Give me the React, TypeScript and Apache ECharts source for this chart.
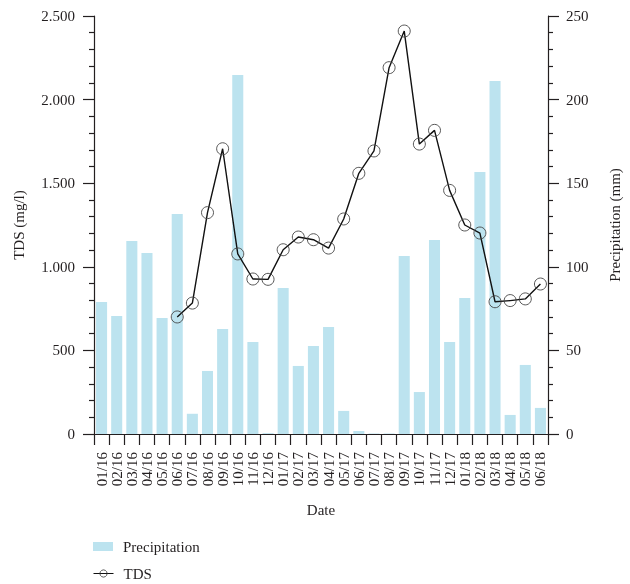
import React, { useEffect, useRef } from "react";
import * as echarts from "echarts";

const dates = ["01/16","02/16","03/16","04/16","05/16","06/16","07/16","08/16","09/16","10/16","11/16","12/16","01/17","02/17","03/17","04/17","05/17","06/17","07/17","08/17","09/17","10/17","11/17","12/17","01/18","02/18","03/18","04/18","05/18","06/18"];
const precipitation = [79, 70.5, 115.4, 108.3, 69.4, 131.6, 12.1, 37.7, 62.8, 214.7, 55, 0.5, 87.3, 40.7, 52.6, 64, 13.8, 1.8, 0.3, 0.3, 106.5, 25.1, 116, 55, 81.3, 156.7, 211.1, 11.4, 41.3, 15.6];
const tds: (number | string)[] = ["-", "-", "-", "-", "-", 700, 783, 1324, 1706, 1077, 927, 925, 1102, 1178, 1162, 1112, 1286, 1559, 1693, 2191, 2410, 1734, 1816, 1457, 1250, 1202, 791, 798, 808, 897];

const FONT = "Liberation Serif";
const TXT = "#231f20";

function fmt(v: number) {
  return String(v).replace(/\B(?=(\d{3})+(?!\d))/g, ".");
}

export default function App() {
  const ref = useRef<HTMLDivElement>(null);
  useEffect(() => {
    if (!ref.current) return;
    const chart = echarts.init(ref.current, undefined, { renderer: "svg" });
    const axisLine = { show: true, lineStyle: { color: TXT, width: 1.2 } };
    const legendBase = {
      orient: "vertical",
      left: 93,
      padding: 0,
      itemWidth: 20,
      itemHeight: 9,
      textStyle: { fontFamily: FONT, fontSize: 15, color: TXT, padding: [0, 0, 0, 5] },
    };
    chart.setOption({
      animation: false,
      textStyle: { fontFamily: FONT, color: TXT },
      grid: { left: 94, right: 82, top: 16, bottom: 150 },
      legend: [
        { ...legendBase, top: 539, data: [{ name: "Precipitation", icon: "rect" }] },
        {
          ...legendBase,
          top: 566,
          data: [{ name: "TDS" }],
          lineStyle: { width: 1, color: "#111" },
          itemStyle: { color: "rgba(0,0,0,0)", borderColor: "#333", borderWidth: 0.8 },
        },
      ],
      xAxis: {
        type: "category",
        data: dates,
        name: "Date",
        nameLocation: "middle",
        nameGap: 68,
        nameTextStyle: { fontFamily: FONT, fontSize: 15, color: TXT },
        axisLine,
        axisTick: { show: true, length: 11, lineStyle: { color: TXT, width: 1.2 } },
        axisLabel: { rotate: 90, fontSize: 15, color: TXT, fontFamily: FONT, margin: 18, interval: 0 },
        splitLine: { show: false },
      },
      yAxis: [
        {
          type: "value",
          min: 0,
          max: 2500,
          interval: 500,
          name: "TDS (mg/l)",
          nameLocation: "middle",
          nameRotate: 90,
          nameGap: 68,
          nameTextStyle: { fontFamily: FONT, fontSize: 15, color: TXT },
          axisLine,
          axisTick: { show: true, length: 11, lineStyle: { color: TXT, width: 1.2 } },
          minorTick: { show: true, splitNumber: 5, length: 5, lineStyle: { color: TXT, width: 1.2 } },
          axisLabel: { fontSize: 15, color: TXT, fontFamily: FONT, margin: 19, formatter: fmt },
          splitLine: { show: false },
        },
        {
          type: "value",
          min: 0,
          max: 250,
          interval: 50,
          position: "right",
          name: "Precipitation (mm)",
          nameLocation: "middle",
          nameRotate: 90,
          nameGap: 59,
          nameTextStyle: { fontFamily: FONT, fontSize: 15, color: TXT },
          axisLine,
          axisTick: { show: true, length: 11, lineStyle: { color: TXT, width: 1.2 } },
          minorTick: { show: true, splitNumber: 5, length: 5, lineStyle: { color: TXT, width: 1.2 } },
          axisLabel: { fontSize: 15, color: TXT, fontFamily: FONT, margin: 18 },
          splitLine: { show: false },
        },
      ],
      series: [
        {
          name: "Precipitation",
          type: "bar",
          yAxisIndex: 1,
          data: precipitation,
          barCategoryGap: "27%",
          itemStyle: { color: "#bce3ef" },
        },
        {
          name: "TDS",
          type: "line",
          yAxisIndex: 0,
          data: tds,
          symbol: "circle",
          symbolSize: 12,
          showSymbol: true,
          itemStyle: { color: "rgba(0,0,0,0)", borderColor: "#444", borderWidth: 0.9 },
          lineStyle: { color: "#111", width: 1.4 },
          z: 3,
        },
      ],
    });
    return () => chart.dispose();
  }, []);
  return <div ref={ref} style={{ position: "fixed", left: 0, top: 0, width: 630, height: 584 }} />;
}
